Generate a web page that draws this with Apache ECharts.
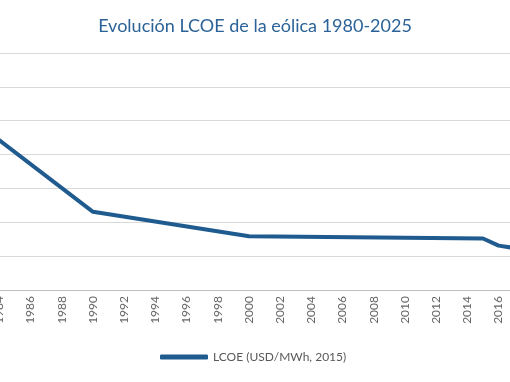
<!DOCTYPE html>
<html>
<head>
<meta charset="utf-8">
<script src="https://cdn.jsdelivr.net/npm/echarts@6/dist/echarts.min.js"></script>
<style>
html,body{margin:0;padding:0;background:#fff;overflow:hidden;}
#chart{width:510px;height:382px;}
</style>
</head>
<body>
<div id="chart"></div>
<script>
const titleText = "Evolución LCOE de la eólica 1980-2025";
const seriesName = "LCOE (USD/MWh, 2015)";
const years = [1980, 1990, 2000, 2015, 2016, 2017];
const lcoe = [583, 231, 159, 152, 131, 124];

const chart = echarts.init(document.getElementById('chart'));
chart.setOption({
  animation: false,
  title: {
    text: titleText,
    left: 'center',
    top: 12,
    textStyle: {color: '#2b6398', fontSize: 18, fontWeight: 'normal', fontFamily: 'Lato'}
  },
  legend: {
    bottom: 14,
    left: 155,
    icon: 'roundRect',
    itemWidth: 48,
    itemHeight: 5,
    itemGap: 10,
    textStyle: {color: '#595959', fontSize: 12, fontFamily: 'Lato'},
    data: [seriesName]
  },
  grid: {left: -63, right: -129, top: 53, bottom: 92, containLabel: false, outerBoundsMode: 'none'},
  xAxis: {
    type: 'value',
    min: 1980, max: 2025, interval: 2,
    axisLine: {show: true, lineStyle: {color: '#bfbfbf', width: 1}},
    axisTick: {show: false},
    splitLine: {show: false},
    axisLabel: {rotate: 90, margin: 6, color: '#666666', fontSize: 12, fontFamily: 'Lato',
      formatter: v => String(v)}
  },
  yAxis: {
    type: 'value', min: 0, max: 700, interval: 100,
    axisLine: {show: false}, axisTick: {show: false},
    axisLabel: {show: false},
    splitLine: {lineStyle: {color: '#d9d9d9', width: 1}}
  },
  series: [{
    name: seriesName,
    type: 'line',
    data: years.map((y, i) => [y, lcoe[i]]),
    symbol: 'none',
    lineStyle: {color: '#1f5b8e', width: 4},
    itemStyle: {color: '#1f5b8e'}
  }]
});
</script>
</body>
</html>
